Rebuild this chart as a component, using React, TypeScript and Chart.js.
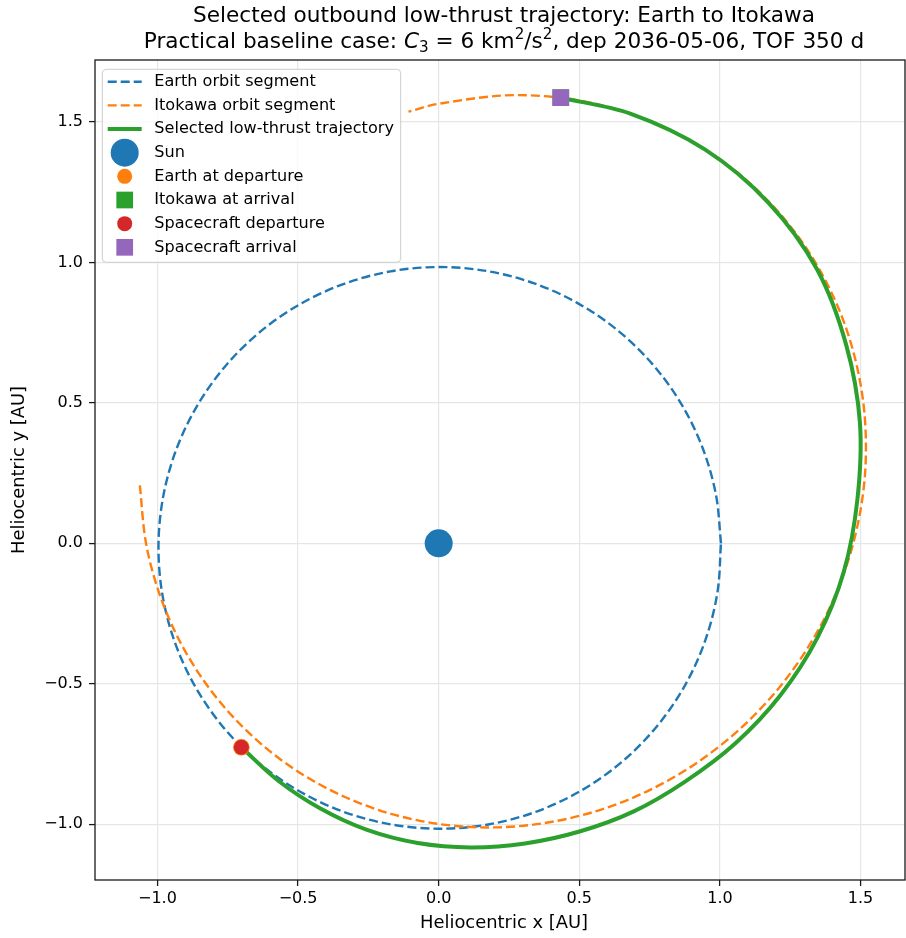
import { useEffect, useRef } from "react";
import { Chart, registerables } from "chart.js";

Chart.register(...registerables);

// ---------------- data ----------------
const earthOrbitX = [1.0038, 0.9857, 0.9378, 0.8618, 0.7602, 0.6363, 0.4939, 0.3372, 0.171, 0, -0.1708, -0.3363, -0.492, -0.6332, -0.7558, -0.8561, -0.9312, -0.9784, -0.9962, -0.9839, -0.9416, -0.8702, -0.7718, -0.6493, -0.5061, -0.3468, -0.1763, 0, 0.1765, 0.3477, 0.508, 0.6524, 0.7762, 0.8759, 0.9482, 0.9912, 1.0038];
const earthOrbitY = [0, 0.1738, 0.3413, 0.4976, 0.6379, 0.7583, 0.8554, 0.9265, 0.9697, 0.9837, 0.9684, 0.9241, 0.8522, 0.7546, 0.6342, 0.4943, 0.3389, 0.1725, 0, -0.1735, -0.3427, -0.5024, -0.6477, -0.7737, -0.8766, -0.9529, -0.9999, -1.0163, -1.0012, -0.9553, -0.8798, -0.7774, -0.6514, -0.5057, -0.3451, -0.1747, 0];

const itokawaOrbitX = [-1.0625, -1.0406, -0.9945, -0.9265, -0.8388, -0.7336, -0.6128, -0.4776, -0.3295, -0.1698, 0, 0.1784, 0.3633, 0.5521, 0.7411, 0.9255, 1.0994, 1.255, 1.3834, 1.4741, 1.5172, 1.5033, 1.427, 1.2871, 1.0889, 0.844, 0.5687, 0.2813, 0, -0.1075];
const itokawaOrbitY = [0.2065, 0, -0.1753, -0.3372, -0.4843, -0.6156, -0.7302, -0.8272, -0.9053, -0.9633, -0.9995, -1.0119, -0.9983, -0.9563, -0.8832, -0.7766, -0.6348, -0.4567, -0.2439, 0, 0.2675, 0.5471, 0.8239, 1.08, 1.2976, 1.4619, 1.5625, 1.596, 1.5653, 1.5369];

const trajectoryX = [-0.7016, -0.5704, -0.4205, -0.2545, -0.0747, 0.1138, 0.3065, 0.5006, 0.6936, 0.8775, 1.0553, 1.215, 1.3468, 1.4405, 1.4888, 1.4977, 1.4489, 1.3446, 1.172, 0.9462, 0.6812, 0.4341];
const trajectoryY = [-0.7265, -0.8456, -0.9446, -1.0208, -1.0674, -1.083, -1.069, -1.0264, -0.9546, -0.8475, -0.7119, -0.5409, -0.3358, -0.1008, 0.1564, 0.4294, 0.7067, 0.9769, 1.2135, 1.4027, 1.5301, 1.5868];

const sunXY = [0, 0];
const earthDepartureXY = [-0.7016, -0.7265];
const itokawaArrivalXY = [0.4341, 1.5868];
const spacecraftDepartureXY = [-0.7016, -0.7265];
const spacecraftArrivalXY = [0.4341, 1.5868];

const xTicks = [-1.0, -0.5, 0.0, 0.5, 1.0, 1.5];
const yTicks = [-1.0, -0.5, 0.0, 0.5, 1.0, 1.5];
const xRange = [-1.222, 1.658];
const yRange = [-1.199, 1.721];

const titleLine1 = "Selected outbound low-thrust trajectory: Earth to Itokawa";
const xLabel = "Heliocentric x [AU]";
const yLabel = "Heliocentric y [AU]";

// ---------------- styles ----------------
const BLUE = "#1f77b4";
const ORANGE = "#ff7f0e";
const GREEN = "#2ca02c";
const RED = "#d62728";
const PURPLE = "#9467bd";
const FONT = '"DejaVu Sans", sans-serif';

const pts = (xs: number[], ys: number[]) => xs.map((x, i) => ({ x, y: ys[i] }));
const fmt = (v: number) => v.toFixed(1).replace("-", "\u2212");

const titlePlugin = {
  id: "twoLineTitle",
  afterDraw(chart: any) {
    const ctx = chart.ctx as CanvasRenderingContext2D;
    const cx = (chart.chartArea.left + chart.chartArea.right) / 2 + 4;
    const size = 21.6;
    const normal = `${size}px ${FONT}`;
    const italic = `italic ${size}px ${FONT}`;
    const small = `${size * 0.7}px ${FONT}`;
    ctx.save();
    ctx.fillStyle = "#000";
    ctx.textBaseline = "alphabetic";
    ctx.textAlign = "center";
    ctx.font = normal;
    ctx.fillText(titleLine1, cx, 22);
    const segs = [
      { t: "Practical baseline case: ", f: normal, dy: 0 },
      { t: "C", f: italic, dy: 0 },
      { t: "3", f: small, dy: size * 0.2 },
      { t: " = 6 km", f: normal, dy: 0 },
      { t: "2", f: small, dy: -size * 0.4 },
      { t: "/s", f: normal, dy: 0 },
      { t: "2", f: small, dy: -size * 0.4 },
      { t: ", dep 2036-05-06, TOF 350 d", f: normal, dy: 0 },
    ];
    ctx.textAlign = "left";
    let total = 0;
    segs.forEach((s) => {
      ctx.font = s.f;
      total += ctx.measureText(s.t).width;
    });
    let x = cx - total / 2;
    segs.forEach((s) => {
      ctx.font = s.f;
      ctx.fillText(s.t, x, 48 + s.dy);
      x += ctx.measureText(s.t).width;
    });
    // x axis label
    ctx.font = `17.9px ${FONT}`;
    ctx.textAlign = "center";
    ctx.textBaseline = "middle";
    ctx.fillText(xLabel, cx, 923);
    ctx.restore();
  },
};

const framePlugin = {
  id: "frame",
  afterDatasetsDraw(chart: any) {
    const { left, top, right, bottom } = chart.chartArea;
    const ctx = chart.ctx as CanvasRenderingContext2D;
    ctx.save();
    ctx.strokeStyle = "#1a1a1a";
    ctx.lineWidth = 1.3;
    ctx.strokeRect(left, top, right - left, bottom - top);
    ctx.restore();
  },
};

const legendPlugin = {
  id: "boxLegend",
  afterDraw(chart: any) {
    const ctx = chart.ctx as CanvasRenderingContext2D;
    const { left, top } = chart.chartArea;
    const bx = left + 7.3;
    const by = top + 9.3;
    const bw = 298.4;
    const bh = 193;
    const r = 4;
    ctx.save();
    ctx.beginPath();
    ctx.moveTo(bx + r, by);
    ctx.lineTo(bx + bw - r, by);
    ctx.quadraticCurveTo(bx + bw, by, bx + bw, by + r);
    ctx.lineTo(bx + bw, by + bh - r);
    ctx.quadraticCurveTo(bx + bw, by + bh, bx + bw - r, by + bh);
    ctx.lineTo(bx + r, by + bh);
    ctx.quadraticCurveTo(bx, by + bh, bx, by + bh - r);
    ctx.lineTo(bx, by + r);
    ctx.quadraticCurveTo(bx, by, bx + r, by);
    ctx.closePath();
    ctx.fillStyle = "rgba(255,255,255,0.8)";
    ctx.fill();
    ctx.strokeStyle = "#cccccc";
    ctx.lineWidth = 1;
    ctx.stroke();

    chart.data.datasets.forEach((ds: any, i: number) => {
      const cy = by + 12.4 + i * 23.66;
      const hx0 = bx + 5.4;
      const hx1 = bx + 39.4;
      const hcx = (hx0 + hx1) / 2;
      if (ds.showLine) {
        ctx.beginPath();
        ctx.setLineDash(ds.borderDash || []);
        ctx.lineWidth = ds.borderWidth;
        ctx.strokeStyle = ds.borderColor;
        ctx.moveTo(hx0, cy);
        ctx.lineTo(hx1, cy);
        ctx.stroke();
        ctx.setLineDash([]);
      } else {
        const rad = ds.legendRadius ?? ds.pointRadius;
        ctx.fillStyle = ds.backgroundColor;
        if (ds.pointStyle === "rect") {
          const side = rad * Math.SQRT2;
          ctx.fillRect(hcx - side / 2, cy - side / 2, side, side);
        } else {
          ctx.beginPath();
          ctx.arc(hcx, cy, rad, 0, Math.PI * 2);
          ctx.fill();
        }
      }
      ctx.fillStyle = "#000";
      ctx.font = `16.1px ${FONT}`;
      ctx.textAlign = "left";
      ctx.textBaseline = "middle";
      ctx.fillText(ds.label, bx + 52, cy);
    });
    ctx.restore();
  },
};

export default function App() {
  const ref = useRef<HTMLCanvasElement>(null);
  useEffect(() => {
    const canvas = ref.current;
    if (!canvas) return;
    const lineDs = (label: string, xs: number[], ys: number[], color: string, width: number, dash: number[], order: number) => ({
      label,
      data: pts(xs, ys),
      showLine: true,
      borderColor: color,
      backgroundColor: color,
      borderWidth: width,
      borderDash: dash,
      pointRadius: 0,
      pointHoverRadius: 0,
      tension: 0.33,
      fill: false,
      order,
    });
    const markDs = (label: string, xy: number[], color: string, style: string, radius: number, order: number, legendRadius?: number) => ({
      label,
      data: [{ x: xy[0], y: xy[1] }],
      showLine: false,
      backgroundColor: color,
      borderColor: color,
      pointBackgroundColor: color,
      pointBorderWidth: 0,
      pointStyle: style,
      pointRadius: radius,
      pointHoverRadius: radius,
      legendRadius,
      order,
    });
    const tickFont = { family: FONT, size: 16 };
    const noPad = (s: any) => {
      s.paddingLeft = 0;
      s.paddingRight = 0;
      s.paddingTop = 0;
      s.paddingBottom = 0;
    };
    const chart = new Chart(canvas, {
      type: "scatter",
      data: {
        datasets: [
          lineDs("Earth orbit segment", earthOrbitX, earthOrbitY, BLUE, 2.4, [9, 4], 8),
          lineDs("Itokawa orbit segment", itokawaOrbitX, itokawaOrbitY, ORANGE, 2.4, [9, 4], 7),
          lineDs("Selected low-thrust trajectory", trajectoryX, trajectoryY, GREEN, 4, [], 6),
          markDs("Sun", sunXY, BLUE, "circle", 14, 5),
          markDs("Earth at departure", earthDepartureXY, ORANGE, "circle", 8.3, 4, 7.5),
          markDs("Itokawa at arrival", itokawaArrivalXY, GREEN, "rect", 11.8, 3),
          markDs("Spacecraft departure", spacecraftDepartureXY, RED, "circle", 7.5, 2),
          markDs("Spacecraft arrival", spacecraftArrivalXY, PURPLE, "rect", 11.8, 1),
        ] as any,
      },
      options: {
        animation: false,
        responsive: false,
        devicePixelRatio: 1,
        events: [],
        layout: { autoPadding: false, padding: { top: 60, right: 1, left: 0, bottom: 0 } },
        plugins: {
          legend: { display: false },
          tooltip: { enabled: false },
          title: { display: false },
        },
        scales: {
          x: {
            type: "linear",
            min: xRange[0],
            max: xRange[1],
            afterFit: (s: any) => {
              s.height = 58;
              noPad(s);
            },
            afterBuildTicks: (s: any) => {
              s.ticks = xTicks.map((v) => ({ value: v }));
            },
            ticks: {
              font: tickFont,
              color: "#000",
              padding: 3,
              maxRotation: 0,
              autoSkip: false,
              callback: (v: any) => fmt(Number(v)),
            },
            grid: { color: "#e6e6e6", lineWidth: 1.2, tickColor: "#1a1a1a", tickLength: 6, tickWidth: 1.3 },
            border: { display: false },
            title: { display: false },
          },
          y: {
            type: "linear",
            min: yRange[0],
            max: yRange[1],
            afterFit: (s: any) => {
              s.width = 95;
              noPad(s);
            },
            afterBuildTicks: (s: any) => {
              s.ticks = yTicks.map((v) => ({ value: v }));
            },
            ticks: {
              font: tickFont,
              color: "#000",
              padding: 6,
              autoSkip: false,
              callback: (v: any) => fmt(Number(v)),
            },
            grid: { color: "#e6e6e6", lineWidth: 1.2, tickColor: "#1a1a1a", tickLength: 6, tickWidth: 1.3 },
            border: { display: false },
            title: {
              display: true,
              text: yLabel,
              color: "#000",
              font: { family: FONT, size: 17.9 },
              padding: { top: 9, bottom: 0 },
            },
          },
        },
      } as any,
      plugins: [framePlugin, legendPlugin, titlePlugin],
    });
    return () => chart.destroy();
  }, []);
  return (
    <div style={{ position: "fixed", left: 0, top: 0, width: 906, height: 938, background: "#fff" }}>
      <canvas ref={ref} width={906} height={938} style={{ width: 906, height: 938, display: "block" }} />
    </div>
  );
}
